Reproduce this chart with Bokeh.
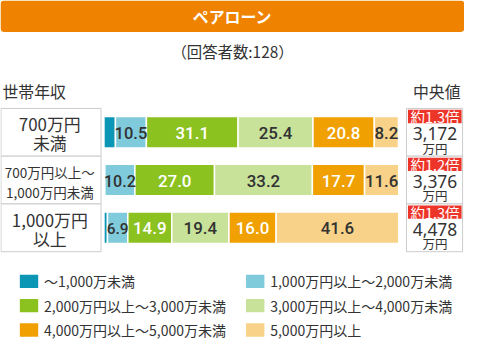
from bokeh.plotting import figure
from bokeh.models import Range1d, ColumnDataSource
from bokeh.embed import file_html
from bokeh.resources import INLINE
from bokeh.core.properties import value

# ---------------- data ----------------
title = "ペアローン"
subtitle = "（回答者数:128）"
left_header = "世帯年収"
right_header = "中央値"
row_labels = [["700万円", "未満"], ["700万円以上～", "1,000万円未満"], ["1,000万円", "以上"]]
categories = ["～1,000万未満", "1,000万円以上～2,000万未満", "2,000万円以上～3,000万未満",
              "3,000万円以上～4,000万未満", "4,000万円以上～5,000万未満", "5,000万円以上"]
s_lt1000 = [3.9, 0.3, 1.2]
s_1000_2000 = [10.5, 10.2, 6.9]
s_2000_3000 = [31.1, 27.0, 14.9]
s_3000_4000 = [25.4, 33.2, 19.4]
s_4000_5000 = [20.8, 17.7, 16.0]
s_ge5000 = [8.2, 11.6, 41.6]
series = [s_lt1000, s_1000_2000, s_2000_3000, s_3000_4000, s_4000_5000, s_ge5000]
medians = ["3,172", "3,376", "4,478"]
median_unit = "万円"
ratios = ["約1.3倍", "約1.2倍", "約1.3倍"]

# ---------------- style / layout ----------------
colors = ["#0A96B4", "#7FCBDC", "#8CC220", "#C8E29A", "#F0A000", "#F7D288"]
label_colors = [None, "#333333", "#FFFFFF", "#333333", "#FFFFFF", "#333333"]
ORANGE = "#EF8300"
RED = "#EE3529"
DARK = "#333333"
BORDER = "#CCCCCC"
JP = value("Noto Sans CJK JP")
LAT = value("Noto Sans")
NUM = value("Roboto Medium, Roboto")

W, H = 480, 357          # reference pixel space
FW, FH = 464, 341        # figure size
FS = 0.965               # font scale

BAR_X0, BAR_W = 107, 305
ROW_TOP, ROW_H = 113, 50
BAR_H = 33

def fs(px):
    return f"{px * FS:.1f}px"

p = figure(width=FW, height=FH, x_range=Range1d(0, W), y_range=Range1d(H, 0),
           x_axis_type=None, y_axis_type=None, output_backend="svg",
           toolbar_location=None, min_border=0)
p.outline_line_color = None
p.background_fill_color = "white"
p.border_fill_color = "white"
p.extra_x_ranges = {"pct": Range1d(-BAR_X0 / (BAR_W / 100), (W - BAR_X0) / (BAR_W / 100))}

# header
p.quad(left=0, right=W, top=0, bottom=33, fill_color=ORANGE, line_color=None, border_radius=4)
p.text(x=[W / 2], y=[17], text=[title], text_font=JP, text_font_size=fs(16.5), text_font_style="bold",
       text_color="white", text_align="center", text_baseline="middle")
p.text(x=[W / 2], y=[53], text=[subtitle], text_font=JP, text_font_size=fs(16),
       text_color=DARK, text_align="center", text_baseline="middle")
p.text(x=[2], y=[95], text=[left_header], text_font=JP, text_font_size=fs(16.5),
       text_color=DARK, text_align="left", text_baseline="middle")
p.text(x=[476], y=[95], text=[right_header], text_font=JP, text_font_size=fs(16.5),
       text_color=DARK, text_align="right", text_baseline="middle")

n = len(row_labels)
tops = [ROW_TOP + i * ROW_H for i in range(n)]
bottoms = [t + ROW_H for t in tops]
centers = [t + ROW_H / 2 for t in tops]

# left boxes
p.quad(left=0.5, right=104, top=tops, bottom=bottoms, fill_color="white", line_color=BORDER, line_width=1)
# right boxes
p.quad(left=420, right=478, top=tops, bottom=bottoms, fill_color="white", line_color=BORDER, line_width=1)

# row labels
for i, lines in enumerate(row_labels):
    small = (i == 1)
    size = 14 if small else 17.5
    y1, y2 = (tops[i] + 17, tops[i] + 37) if small else (tops[i] + 16, tops[i] + 36)
    p.text(x=[51, 51], y=[y1, y2], text=lines, text_font=JP, text_font_size=fs(size),
           text_color=DARK, text_align="center", text_baseline="middle")

# stacked bars
ys, lefts, rights, cols = [], [], [], []
lx, ly, lt, lc, lsz = [], [], [], [], []
px_per = BAR_W / 100
for r in range(n):
    cum = 0.0
    for k, s in enumerate(series):
        v = s[r]
        ys.append(centers[r]); lefts.append(cum); rights.append(cum + v); cols.append(colors[k])
        if label_colors[k] is not None:
            txt = f"{v:.1f}"
            base = 17.5
            est = base * (0.56 * (len(txt) - 1) + 0.25)
            avail = v * px_per + 1
            size = base * min(1.0, avail / est)
            lx.append(cum + v / 2); ly.append(centers[r] + 0.5); lt.append(txt)
            lc.append(label_colors[k]); lsz.append(fs(max(size, 14.5)))
        cum += v
src = ColumnDataSource(dict(y=ys, left=lefts, right=rights, color=cols))
p.hbar(y="y", left="left", right="right", height=BAR_H, fill_color="color",
       line_color="white", line_width=1.5, source=src, x_range_name="pct")
lsrc = ColumnDataSource(dict(x=lx, y=ly, text=lt, color=lc, size=lsz))
p.text(x="x", y="y", text="text", text_color="color", source=lsrc, x_range_name="pct",
       text_font=NUM, text_font_size="size", text_font_style="normal",
       text_align="center", text_baseline="middle")

# medians
p.quad(left=421.5, right=477, top=[t + 1.5 for t in tops], bottom=[t + 15.5 for t in tops],
       fill_color=RED, line_color=None)
p.text(x=[449.5] * n, y=[t + 8.8 for t in tops], text=ratios, text_font=JP, text_font_size=fs(15),
       text_color="white", text_align="center", text_baseline="middle")
p.text(x=[449.5] * n, y=[t + 26.5 for t in tops], text=medians, text_font=LAT, text_font_size=fs(18),
       text_color=DARK, text_align="center", text_baseline="middle")
p.text(x=[449.5] * n, y=[t + 41.5 for t in tops], text=[median_unit] * n, text_font=JP,
       text_font_size=fs(13), text_color=DARK, text_align="center", text_baseline="middle")

# legend
leg_rows = [294, 319.5, 345]
leg_cols = [(20, 45), (254, 279)]
for k, cat in enumerate(categories):
    r, c = k // 2, k % 2
    sx, tx = leg_cols[c]
    cy = leg_rows[r]
    p.quad(left=sx, right=sx + 19, top=cy - 7, bottom=cy + 7, fill_color=colors[k], line_color=None)
    p.text(x=[tx], y=[cy], text=[cat], text_font=JP, text_font_size=fs(14.5),
           text_color=DARK, text_align="left", text_baseline="middle")

open("out.html", "w").write(file_html(p, INLINE))
